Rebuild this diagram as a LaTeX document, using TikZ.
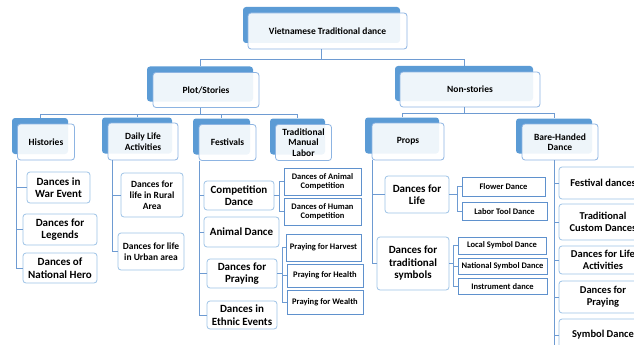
\documentclass[tikz,border=0pt]{standalone}
\usepackage{fontspec}
\setmainfont{Carlito}
\usepackage{tikz}
\usepackage{xcolor}
\usetikzlibrary{positioning,calc}
\definecolor{shadeblue}{RGB}{91,155,213}
\definecolor{rimblue}{RGB}{141,180,226}
\definecolor{lineblue}{RGB}{110,155,210}
\definecolor{leafrim}{RGB}{157,195,230}
\definecolor{subrim}{RGB}{95,145,205}
\tikzset{
  back/.style={
    rectangle,
    rounded corners=3pt,
    fill=shadeblue,
    inner sep=0pt},
  front/.style={
    rectangle,
    rounded corners=3pt,
    draw=rimblue, line width=0.8pt,
    fill=white, fill opacity=0.9, text opacity=1,
    inner sep=0pt,
    align=center,
    font=\bfseries\fontsize{9.5}{10.5}\selectfont,
    xshift=6pt, yshift=-6pt},
  leaf/.style={
    rectangle,
    rounded corners=3pt,
    draw=leafrim, line width=0.8pt,
    fill=white,
    inner sep=0pt,
    align=center,
    font=\bfseries\fontsize{11}{12.5}\selectfont},
  subleaf/.style={
    rectangle,
    draw=subrim, line width=0.8pt,
    fill=white,
    inner sep=0pt,
    align=center,
    font=\bfseries\fontsize{8.5}{9.5}\selectfont},
  conn/.style={draw=lineblue, line width=0.8pt},
}

\begin{document}
\begin{tikzpicture}[x=1pt, y=-1pt]
    \clip (0,0) rectangle (634,345);
    \tikzset{
        small/.style={font=\bfseries\fontsize{9.5}{11}\selectfont},
        mid/.style={font=\bfseries\fontsize{10.5}{12}\selectfont},
    }
    % top levels
    \node[back, minimum width=157pt, minimum height=36pt] (root) at (321.5,25) {};
    \node[back, minimum width=106pt, minimum height=35pt] (plot) at (200,84) {};
    \node[back, minimum width=138pt, minimum height=35pt] (nonst) at (464,83.5) {};
    \node[back, minimum width=56pt, minimum height=36pt] (hist) at (40,136) {};
    \node[back, minimum width=70pt, minimum height=36pt] (daily) at (137,135.5) {};
    \node[back, minimum width=57pt, minimum height=36pt] (fest) at (221.5,136.5) {};
    \node[back, minimum width=55pt, minimum height=36pt] (labor) at (297.5,136.5) {};
    \node[back, minimum width=74pt, minimum height=36pt] (props) at (402,135.5) {};
    \node[back, minimum width=76pt, minimum height=35pt] (bare) at (554,136) {};

    \node[front, minimum width=159pt, minimum height=36pt] (root-t) at (root) {Vietnamese Traditional dance};
    \node[front, minimum width=106pt, minimum height=35pt] (plot-t) at (plot) {Plot/Stories};
    \node[front, minimum width=140pt, minimum height=35pt] (nonst-t) at (nonst) {Non-stories};
    \node[front, minimum width=57pt, minimum height=36pt] (hist-t) at (hist) {Histories};
    \node[front, minimum width=70pt, minimum height=37pt] (daily-t) at (daily) {Daily Life\\Activities};
    \node[front, minimum width=57pt, minimum height=36pt] (fest-t) at (fest) {Festivals};
    \node[front, minimum width=56pt, minimum height=36pt] (labor-t) at (labor) {Traditional\\Manual\\Labor};
    \node[front, minimum width=72pt, minimum height=37pt] (props-t) at (props) {Props};
    \node[front, minimum width=76pt, minimum height=36pt] (bare-t) at (bare) {Bare-Handed\\Dance};

    % Histories
    \node[leaf, minimum width=63pt, minimum height=31pt] (war) at (58.5,187.5) {Dances in\\War Event};
    \node[leaf, minimum width=74pt, minimum height=31pt] (legend) at (60,229.5) {Dances for\\Legends};
    \node[leaf, minimum width=74pt, minimum height=30pt] (hero) at (60,268) {Dances of\\National Hero};
    % Daily life
    \node[leaf, small, minimum width=62pt, minimum height=44pt] (rural) at (152,195) {Dances for\\life in Rural\\Area};
    \node[leaf, small, minimum width=66pt, minimum height=37pt] (urban) at (151,251.5) {Dances for life\\in Urban area};
    % Festivals
    \node[leaf, minimum width=70pt, minimum height=29pt] (comp) at (239,195.5) {Competition\\Dance};
    \node[leaf, minimum width=75pt, minimum height=30pt] (animal) at (241.5,232) {Animal Dance};
    \node[leaf, minimum width=70pt, minimum height=29pt] (pray) at (242,273.5) {Dances for\\Praying};
    \node[leaf, minimum width=70pt, minimum height=28pt] (ethnic) at (242,315) {Dances in\\Ethnic Events};
      \node[subleaf, minimum width=77pt, minimum height=27pt] (animcomp) at (322.5,181.5) {Dances of Animal\\Competition};
      \node[subleaf, minimum width=77pt, minimum height=27pt] (humcomp) at (322.5,211.5) {Dances of Human\\Competition};
      \node[subleaf, minimum width=75pt, minimum height=27pt] (harvest) at (323.5,247.5) {Praying for Harvest};
      \node[subleaf, minimum width=76pt, minimum height=23pt] (health) at (325,275.5) {Praying for Health};
      \node[subleaf, minimum width=76pt, minimum height=24pt] (wealth) at (325,302) {Praying for Wealth};
    % Props
    \node[leaf, minimum width=64pt, minimum height=37pt] (life) at (417,194.5) {Dances for\\Life};
    \node[leaf, minimum width=72pt, minimum height=53pt] (symb) at (413,263.5) {Dances for\\traditional\\symbols};
      \node[subleaf, minimum width=83pt, minimum height=19pt] (flower) at (503.5,186.5) {Flower Dance};
      \node[subleaf, minimum width=85pt, minimum height=18pt] (tool) at (504.5,211.5) {Labor Tool Dance};
      \node[subleaf, minimum width=88pt, minimum height=17pt] (local) at (502,245.5) {Local Symbol Dance};
      \node[subleaf, minimum width=89pt, minimum height=16pt] (national) at (502.5,266) {National Symbol Dance};
      \node[subleaf, minimum width=89pt, minimum height=16pt] (instr) at (502.5,286.5) {Instrument dance};
    % Bare-handed
    \node[leaf, mid, minimum width=88pt, minimum height=32pt] (bfest) at (603,183) {Festival dances};
    \node[leaf, mid, minimum width=88pt, minimum height=36pt] (bcustom) at (603,222) {Traditional\\Custom Dances};
    \node[leaf, mid, minimum width=88pt, minimum height=28pt] (blife) at (603,260) {Dances for Life\\Activities};
    \node[leaf, mid, minimum width=88pt, minimum height=32pt] (bpray) at (603,297) {Dances for\\Praying};
    \node[leaf, mid, minimum width=88pt, minimum height=32pt] (bsym) at (603,335) {Symbol Dance};

    % connectors
    \path[conn] (root.south |- root-t.south) -- ++(0,10) -| (plot.north);
    \path[conn] (root.south |- root-t.south) -- ++(0,10) -| (nonst.north);
    \path[conn] (plot.south |- plot-t.south) -- ++(0,6) -| (hist.north);
    \path[conn] (plot.south |- plot-t.south) -- ++(0,6) -| (daily.north);
    \path[conn] (plot.south |- plot-t.south) -- ++(0,6) -| (fest.north);
    \path[conn] (plot.south |- plot-t.south) -- ++(0,6) -| (labor.north);
    \path[conn] (nonst.south |- nonst-t.south) -- ++(0,6) -| (props.north);
    \path[conn] (nonst.south |- nonst-t.south) -- ++(0,6) -| (bare.north);

    \path[conn] ([xshift=-1pt]hist-t.south west) |- (war.west);
    \path[conn] ([xshift=-1pt]hist-t.south west) |- (legend.west);
    \path[conn] ([xshift=-1pt]hist-t.south west) |- (hero.west);
    \path[conn] ([xshift=5pt]daily-t.south west) |- (rural.west);
    \path[conn] ([xshift=5pt]daily-t.south west) |- (urban.west);
    \path[conn] ([xshift=1pt]fest-t.south west) |- (comp.west);
    \path[conn] ([xshift=1pt]fest-t.south west) |- (animal.west);
    \path[conn] ([xshift=1pt]fest-t.south west) |- (pray.west);
    \path[conn] ([xshift=1pt]fest-t.south west) |- (ethnic.west);
      \path[conn] (comp.east) -- ++(5,0) |- (animcomp.west);
      \path[conn] (comp.east) -- ++(5,0) |- (humcomp.west);
      \path[conn] (pray.east) -- ++(5,0) |- (harvest.west);
      \path[conn] (pray.east) -- ++(5,0) |- (health.west);
      \path[conn] (pray.east) -- ++(5,0) |- (wealth.west);
    \path[conn] ([xshift=1pt]props-t.south west) |- (life.west);
    \path[conn] ([xshift=1pt]props-t.south west) |- (symb.west);
      \path[conn] (life.east) -- ++(8,0) |- (flower.west);
      \path[conn] (life.east) -- ++(8,0) |- (tool.west);
      \path[conn] (symb.east) -- ++(4,0) |- (local.west);
      \path[conn] (symb.east) -- ++(4,0) |- (national.west);
      \path[conn] (symb.east) -- ++(4,0) |- (instr.west);
    \path[conn] (bare.south |- bare-t.south) |- (bfest.west);
    \path[conn] (bare.south |- bare-t.south) |- (bcustom.west);
    \path[conn] (bare.south |- bare-t.south) |- (blife.west);
    \path[conn] (bare.south |- bare-t.south) |- (bpray.west);
    \path[conn] (bare.south |- bare-t.south) |- (bsym.west);
    \path[conn] (bsym.west) ++(-4,0) -- ++(0,20);
\end{tikzpicture}
\end{document}
